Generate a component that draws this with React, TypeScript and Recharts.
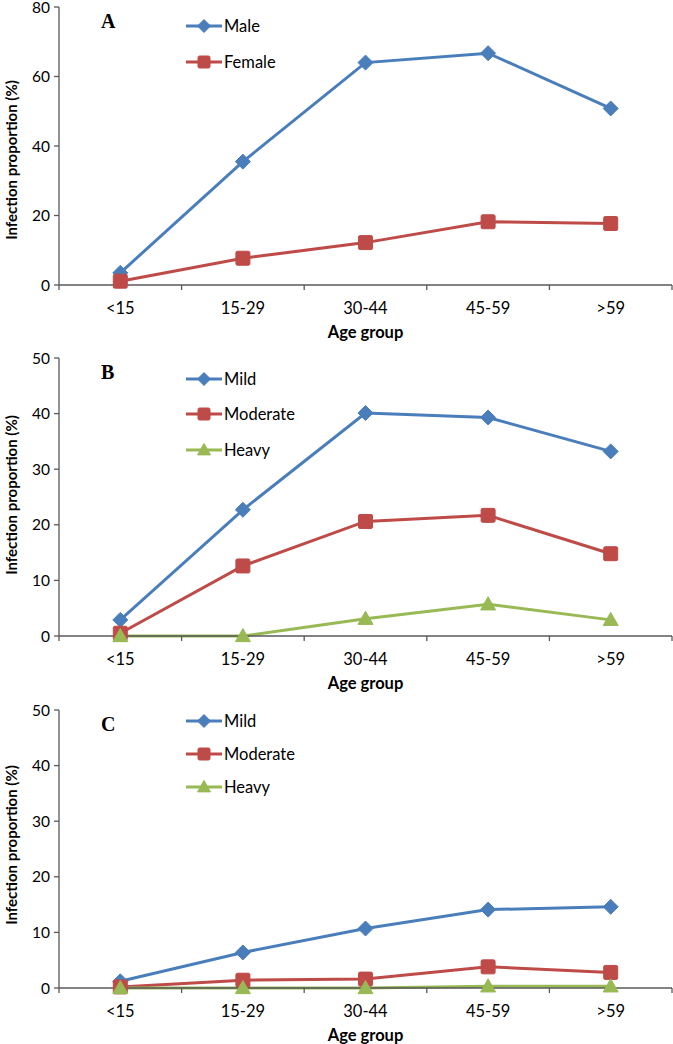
import React from 'react';
import { LineChart, Line, XAxis, YAxis, Legend } from 'recharts';

const AGE_GROUPS = ['<15', '15-29', '30-44', '45-59', '>59'];

// panel A - by sex
const MALE = [3.5, 35.5, 64.0, 66.7, 50.8];
const FEMALE = [1.1, 7.7, 12.2, 18.2, 17.7];

// panel B - intensity
const B_MILD = [2.9, 22.7, 40.1, 39.3, 33.2];
const B_MODERATE = [0.5, 12.6, 20.6, 21.7, 14.8];
const B_HEAVY = [0, 0, 3.1, 5.7, 2.9];

// panel C - intensity
const C_MILD = [1.2, 6.4, 10.7, 14.1, 14.6];
const C_MODERATE = [0.2, 1.4, 1.6, 3.8, 2.8];
const C_HEAVY = [0, 0, 0, 0.3, 0.3];

const TICKS_A = [0, 20, 40, 60, 80];
const TICKS_BC = [0, 10, 20, 30, 40, 50];
// category boundaries, Excel puts the tick marks between groups
const BOUNDARY_TICKS = [...AGE_GROUPS.map((_, i) => i), AGE_GROUPS.length];

const BLUE = '#4a7ebb';
const RED = '#be4b48';
const GREEN = '#98b954';
const AXIS = '#595959';
const FONT = 'Lato, "Open Sans", sans-serif';

type Marker = 'diamond' | 'square' | 'triangle';
interface Series { key: string; name: string; color: string; marker: Marker; values: number[] }

function MarkerShape({ cx, cy, marker, color, s = 7.5 }: { cx: number; cy: number; marker: Marker; color: string; s?: number }) {
    if (marker === 'diamond') {
        return <polygon points={`${cx},${cy - s} ${cx + s},${cy} ${cx},${cy + s} ${cx - s},${cy}`} fill={color} stroke={color} strokeWidth={1} />;
    }
    if (marker === 'square') {
        const h = s - 0.5;
        return <rect x={cx - h} y={cy - h} width={h * 2} height={h * 2} rx={1.5} fill={color} stroke={color} strokeWidth={1} />;
    }
    return <polygon points={`${cx},${cy - s} ${cx + s},${cy + s * 0.75} ${cx - s},${cy + s * 0.75}`} fill={color} stroke={color} strokeWidth={1} strokeLinejoin="round" />;
}

const makeDot = (marker: Marker, color: string) => (p: any) => (
    <MarkerShape key={`d-${p.index}`} cx={p.cx} cy={p.cy} marker={marker} color={color} />
);

// group name sits halfway between two boundary ticks
function CatTick(props: any) {
    const { x, y, payload, width } = props;
    const i = payload.value;
    if (i >= AGE_GROUPS.length) return <g />;
    const half = width / AGE_GROUPS.length / 2;
    return (
        <text x={x + half} y={y} dy="0.71em" textAnchor="middle" fontFamily={FONT} fontSize={16.5} fill="#000">
            {AGE_GROUPS[i]}
        </text>
    );
}

function YLabel({ centerY }: { centerY: number; viewBox?: any }) {
    return (
        <text x={11} y={centerY} transform={`rotate(-90 11 ${centerY})`} textAnchor="middle" dominantBaseline="central"
            fontFamily={FONT} fontWeight="bold" fontSize={15} fill="#000">
            Infection proportion (%)
        </text>
    );
}

function XLabel({ viewBox }: { viewBox?: any }) {
    if (!viewBox) return null;
    return (
        <text x={viewBox.x + viewBox.width / 2} y={viewBox.y + 47} textAnchor="middle" dominantBaseline="central"
            fontFamily={FONT} fontWeight="bold" fontSize={16.5} fill="#000">
            Age group
        </text>
    );
}

function LegendBox({ series, gap }: { series: Series[]; gap: number }) {
    return (
        <div style={{ fontFamily: FONT, fontSize: 16.5, color: '#000' }}>
            {series.map((s) => (
                <div key={s.key} style={{ display: 'flex', alignItems: 'center', height: gap }}>
                    <svg width={36} height={16} style={{ display: 'block' }}>
                        <line x1={0} y1={8} x2={36} y2={8} stroke={s.color} strokeWidth={3} />
                        <MarkerShape cx={18} cy={8} marker={s.marker} color={s.color} s={6.5} />
                    </svg>
                    <span style={{ marginLeft: 2 }}>{s.name}</span>
                </div>
            ))}
        </div>
    );
}

interface PanelProps {
    letter: string;
    top: number;
    marginTop: number;
    yMax: number;
    yTicks: number[];
    series: Series[];
    yLabelY: number;
    legendTop: number;
    legendGap: number;
}

function Panel({ letter, top, marginTop, yMax, yTicks, series, yLabelY, legendTop, legendGap }: PanelProps) {
    const rows = AGE_GROUPS.map((g, i) => {
        const row: Record<string, string | number> = { group: g, pos: i + 0.5 };
        series.forEach((s) => { row[s.key] = s.values[i]; });
        return row;
    });
    const xAxisH = 66;
    const plotBottom = marginTop + 278;
    const h = plotBottom + xAxisH;
    return (
        <div style={{ position: 'absolute', left: 0, top, width: 673, height: h }}>
            <LineChart width={673} height={h} data={rows} style={{ overflow: 'visible' }}
                margin={{ top: marginTop, right: 1, bottom: 0, left: 0 }}>
                <XAxis type="number" dataKey="pos" domain={[0, AGE_GROUPS.length]} ticks={BOUNDARY_TICKS} interval={0}
                    height={xAxisH} tickSize={5} tickMargin={12} stroke={AXIS} strokeWidth={1.3}
                    tick={<CatTick />} label={<XLabel />} allowDataOverflow />
                <YAxis domain={[0, yMax]} ticks={yTicks} width={59} tickSize={5} tickMargin={4} stroke={AXIS} strokeWidth={1.3}
                    tick={{ fill: '#000', fontSize: 15.5, fontFamily: FONT }} interval={0} label={<YLabel centerY={yLabelY} />} />
                <Legend layout="horizontal" align="center" verticalAlign="middle"
                    wrapperStyle={{ left: 186, top: legendTop, width: 'auto' }}
                    content={() => <LegendBox series={series} gap={legendGap} />} />
                {series.map((s) => (
                    <Line key={s.key} dataKey={s.key} name={s.name} stroke={s.color} strokeWidth={3}
                        dot={makeDot(s.marker, s.color)} activeDot={false} isAnimationActive={false} />
                ))}
            </LineChart>
            <div style={{ position: 'absolute', left: 101, top: marginTop + 2, fontFamily: '"Liberation Serif", "DejaVu Serif", serif', fontWeight: 'bold', fontSize: 20, lineHeight: '24px' }}>
                {letter}
            </div>
        </div>
    );
}

const SERIES_A: Series[] = [
    { key: 'male', name: 'Male', color: BLUE, marker: 'diamond', values: MALE },
    { key: 'female', name: 'Female', color: RED, marker: 'square', values: FEMALE },
];
const SERIES_B: Series[] = [
    { key: 'mild', name: 'Mild', color: BLUE, marker: 'diamond', values: B_MILD },
    { key: 'moderate', name: 'Moderate', color: RED, marker: 'square', values: B_MODERATE },
    { key: 'heavy', name: 'Heavy', color: GREEN, marker: 'triangle', values: B_HEAVY },
];
const SERIES_C: Series[] = [
    { key: 'mild', name: 'Mild', color: BLUE, marker: 'diamond', values: C_MILD },
    { key: 'moderate', name: 'Moderate', color: RED, marker: 'square', values: C_MODERATE },
    { key: 'heavy', name: 'Heavy', color: GREEN, marker: 'triangle', values: C_HEAVY },
];

export default function App() {
    return (
        <div style={{ position: 'absolute', left: 0, top: 0, width: 673, height: 1044, background: '#fff', overflow: 'hidden' }}>
            <Panel letter="A" top={0} marginTop={7} yMax={80} yTicks={TICKS_A} series={SERIES_A}
                yLabelY={160} legendTop={8} legendGap={36} />
            <Panel letter="B" top={341} marginTop={17} yMax={50} yTicks={TICKS_BC} series={SERIES_B}
                yLabelY={154} legendTop={20} legendGap={35.5} />
            <Panel letter="C" top={692} marginTop={18} yMax={50} yTicks={TICKS_BC} series={SERIES_C}
                yLabelY={153} legendTop={12} legendGap={33} />
        </div>
    );
}
